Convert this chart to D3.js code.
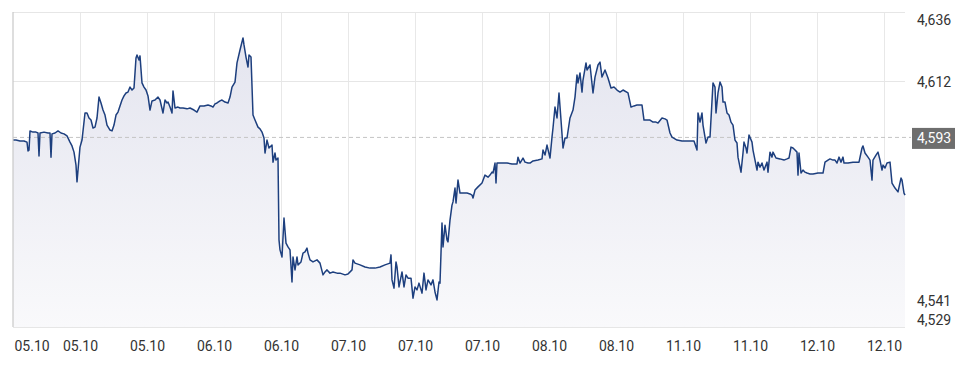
<!DOCTYPE html>
<html><head><meta charset="utf-8">
<script src="https://cdn.jsdelivr.net/npm/d3@7"></script>
<style>html,body{margin:0;padding:0;background:#fff;}svg{display:block;font-family:Roboto,"Noto Sans",sans-serif;}</style>
</head><body>
<svg id="chart" width="961" height="365"></svg>
<script>
// ---- data ----
const times = [0,3,7,11,14,15,16,17,20,23,25,26,27,31,35,37,38,39,42,45,48,51,54,57,59,61,63,64,65,67,69,72,74,76,78,80,82,84,86,88,90,92,94,97,99,101,103,105,107,109,111,113,115,117,119,121,123,124,126,127,129,131,133,135,137,139,142,145,147,150,152,154,155,157,159,160,162,165,167,170,174,177,181,184,187,191,195,198,200,202,204,207,209,212,215,217,219,222,224,227,230,231,233,235,236,238,240,242,245,247,249,251,252,254,256,259,260,262,263,265,266,267,269,271,273,275,277,279,280,282,284,285,288,290,292,294,295,297,300,304,307,310,312,314,317,320,324,327,332,335,339,340,342,347,352,357,362,367,372,377,378,379,381,383,384,386,389,391,393,395,398,400,402,404,406,409,411,413,415,418,420,422,424,426,427,429,430,432,434,435,437,439,440,442,443,445,447,449,452,454,457,459,460,462,465,469,472,475,477,479,480,482,483,484,489,494,499,504,505,507,510,512,515,517,520,525,529,530,532,534,537,539,540,542,544,546,548,550,552,554,557,560,562,564,565,567,569,570,573,574,577,580,582,585,587,589,592,595,598,601,604,607,610,615,618,621,624,629,631,634,637,640,643,645,649,652,654,657,659,664,669,674,678,681,684,685,687,689,690,693,695,697,700,702,703,705,707,709,710,712,714,716,718,720,722,724,725,728,730,731,733,734,736,739,740,742,744,745,747,749,751,754,755,757,759,760,763,767,771,774,776,778,780,782,784,785,786,788,790,792,794,797,800,805,810,812,815,817,820,822,824,826,828,830,831,835,840,843,846,849,850,852,855,857,859,860,863,865,867,869,870,872,874,877,879,882,885,888,889,891,892];
const rates = [4.5925,4.5925,4.5922,4.5922,4.5918,4.5888,4.5891,4.5956,4.5952,4.5952,4.5949,4.5871,4.5949,4.5952,4.5949,4.5949,4.5867,4.5946,4.5949,4.5956,4.5949,4.5946,4.5939,4.5918,4.5905,4.5884,4.5840,4.5783,4.5823,4.5901,4.5925,4.6017,4.6017,4.6000,4.5993,4.5966,4.5969,4.6000,4.6071,4.6051,4.6027,4.6010,4.5976,4.5959,4.5956,4.5976,4.6010,4.6020,4.6041,4.6061,4.6075,4.6085,4.6088,4.6105,4.6095,4.6102,4.6204,4.6214,4.6197,4.6211,4.6119,4.6105,4.6095,4.6075,4.6027,4.6058,4.6061,4.6071,4.6061,4.6017,4.6061,4.6051,4.6054,4.6037,4.6017,4.6092,4.6034,4.6037,4.6034,4.6034,4.6031,4.6034,4.6027,4.6020,4.6041,4.6041,4.6044,4.6041,4.6037,4.6048,4.6051,4.6058,4.6061,4.6054,4.6051,4.6071,4.6105,4.6122,4.6187,4.6231,4.6272,4.6248,4.6207,4.6173,4.6214,4.6207,4.6010,4.5993,4.5969,4.5963,4.5952,4.5932,4.5881,4.5925,4.5898,4.5908,4.5850,4.5881,4.5857,4.5864,4.5586,4.5552,4.5528,4.5660,4.5575,4.5562,4.5552,4.5443,4.5528,4.5484,4.5528,4.5501,4.5511,4.5541,4.5545,4.5558,4.5541,4.5518,4.5511,4.5518,4.5507,4.5467,4.5477,4.5484,4.5473,4.5477,4.5473,4.5473,4.5467,4.5470,4.5484,4.5518,4.5507,4.5501,4.5494,4.5490,4.5490,4.5494,4.5501,4.5507,4.5535,4.5450,4.5422,4.5511,4.5494,4.5426,4.5477,4.5426,4.5467,4.5456,4.5456,4.5388,4.5426,4.5416,4.5439,4.5405,4.5473,4.5416,4.5450,4.5433,4.5450,4.5409,4.5382,4.5443,4.5439,4.5643,4.5562,4.5636,4.5586,4.5579,4.5653,4.5704,4.5715,4.5762,4.5711,4.5789,4.5745,4.5745,4.5745,4.5745,4.5742,4.5738,4.5728,4.5755,4.5766,4.5779,4.5806,4.5799,4.5806,4.5816,4.5813,4.5847,4.5779,4.5847,4.5847,4.5847,4.5844,4.5844,4.5867,4.5847,4.5864,4.5850,4.5847,4.5847,4.5854,4.5857,4.5861,4.5891,4.5874,4.5908,4.5864,4.5935,4.5966,4.6037,4.6000,4.6085,4.5993,4.5898,4.5932,4.5932,4.6000,4.6027,4.6071,4.6146,4.6119,4.6153,4.6088,4.6129,4.6187,4.6163,4.6180,4.6085,4.6139,4.6180,4.6190,4.6139,4.6163,4.6136,4.6102,4.6105,4.6095,4.6088,4.6095,4.6085,4.6037,4.6041,4.6044,4.6044,4.5993,4.5993,4.5993,4.5986,4.5986,4.5983,4.6000,4.5997,4.5993,4.5949,4.5935,4.5925,4.5922,4.5922,4.5922,4.5922,4.5891,4.6017,4.5986,4.6017,4.5976,4.5915,4.5935,4.5935,4.6119,4.6105,4.6017,4.6085,4.6122,4.6105,4.6054,4.6054,4.6017,4.6010,4.5986,4.5976,4.5925,4.5915,4.5867,4.5816,4.5881,4.5918,4.5898,4.5881,4.5942,4.5918,4.5891,4.5857,4.5823,4.5850,4.5833,4.5847,4.5823,4.5850,4.5816,4.5884,4.5867,4.5884,4.5864,4.5861,4.5857,4.5861,4.5864,4.5901,4.5898,4.5891,4.5884,4.5806,4.5881,4.5813,4.5823,4.5816,4.5813,4.5810,4.5810,4.5813,4.5813,4.5850,4.5857,4.5861,4.5857,4.5857,4.5847,4.5867,4.5850,4.5867,4.5847,4.5847,4.5850,4.5850,4.5850,4.5898,4.5905,4.5881,4.5867,4.5857,4.5789,4.5857,4.5874,4.5884,4.5857,4.5823,4.5840,4.5830,4.5847,4.5850,4.5779,4.5762,4.5749,4.5796,4.5789,4.5745,4.5738];
const xTickTimes = [0,67,134,201,268,335,402,469,536,603,670,737,804,871];
const xTickLabels = ["05.10","05.10","05.10","06.10","06.10","07.10","07.10","07.10","08.10","08.10","11.10","11.10","12.10","12.10"];
const yTickValues = [4.6360, 4.6124, 4.5412, 4.5290];
const referenceRate = 4.5934;
const yDomain = [4.529, 4.636];
const timeDomain = [0, 892];

(function () {
  const svg = d3.select("#chart");
  const pL = 13, pR = 905, pT = 12, pB = 327;
  const x = d3.scaleLinear().domain(timeDomain).range([pL, pR]);
  const y = d3.scaleLinear().domain(yDomain).range([pB, pT]);
  const fmt = v => d3.format(".3f")(v).replace(".", ",");
  const data = times.map((t, i) => ({t, v: rates[i]}));

  const defs = svg.append("defs");
  const grad = defs.append("linearGradient").attr("id", "fillGrad")
    .attr("gradientUnits", "userSpaceOnUse").attr("x1", 0).attr("x2", 0).attr("y1", pT).attr("y2", pB);
  grad.append("stop").attr("offset", "0%").attr("stop-color", "#e2e3ee");
  grad.append("stop").attr("offset", "100%").attr("stop-color", "#f9f9fb");

  // gridlines
  const g = svg.append("g");
  g.selectAll("line.v").data(xTickTimes.slice(1)).join("line").attr("class", "v")
    .attr("x1", d => x(d)).attr("x2", d => x(d)).attr("y1", pT).attr("y2", pB)
    .attr("stroke", "#e8e8e8").attr("stroke-width", 1).attr("shape-rendering", "crispEdges");
  g.selectAll("line.h").data(yTickValues).join("line").attr("class", "h")
    .attr("x1", pL).attr("x2", pR).attr("y1", d => y(d)).attr("y2", d => y(d))
    .attr("stroke", "#e6e6e6").attr("stroke-width", 1).attr("shape-rendering", "crispEdges");

  // area
  const area = d3.area().x(d => x(d.t)).y0(pB).y1(d => y(d.v));
  svg.append("path").datum(data).attr("d", area).attr("fill", "url(#fillGrad)");

  // reference dashed line
  svg.append("line").attr("x1", pL).attr("x2", 911).attr("y1", y(referenceRate)).attr("y2", y(referenceRate))
    .attr("stroke", "#c4c4c4").attr("stroke-width", 1).attr("stroke-dasharray", "4,3");

  // line
  const line = d3.line().x(d => x(d.t)).y(d => y(d.v));
  svg.append("path").datum(data).attr("d", line).attr("fill", "none")
    .attr("stroke", "#1d3f7e").attr("stroke-width", 1.5).attr("stroke-linejoin", "round");

  // left axis line
  svg.append("line").attr("x1", pL).attr("x2", pL).attr("y1", pT).attr("y2", pB)
    .attr("stroke", "#c8c8c8").attr("stroke-width", 1.2);

  // x axis labels
  const xAxis = svg.append("g").attr("transform", `translate(0,${pB})`)
    .call(d3.axisBottom(x).tickValues(xTickTimes).tickFormat((d, i) => xTickLabels[i]).tickSize(0).tickPadding(0));
  xAxis.select(".domain").remove();
  xAxis.selectAll("text").attr("y", 24).attr("dy", 0).attr("fill", "#333").style("font-size", "14px")
    .style("font-family", "Roboto, sans-serif");
  xAxis.selectAll(".tick").filter((d, i) => i === 0).select("text").attr("text-anchor", "start").attr("x", 1);

  // y axis labels (right)
  const labelShift = [12, 4.6, 14.7, -3];
  const yAxis = svg.append("g").attr("transform", "translate(917,0)")
    .call(d3.axisRight(y).tickValues(yTickValues).tickFormat(fmt).tickSize(0).tickPadding(0));
  yAxis.select(".domain").remove();
  yAxis.selectAll("text").attr("x", 0).attr("dy", 0).attr("text-anchor", "start")
    .attr("y", (d, i) => labelShift[i]).attr("fill", "#333").style("font-size", "14px")
    .style("font-family", "Roboto, sans-serif");

  // reference badge
  const by = y(referenceRate);
  svg.append("rect").attr("x", 912).attr("y", by - 9.5).attr("width", 43).attr("height", 21).attr("fill", "#6e6e6e");
  svg.append("text").attr("x", 917).attr("y", by + 5.5).attr("fill", "#fff").style("font-size", "14px")
    .style("font-family", "Roboto, sans-serif").text(fmt(referenceRate));
})();
</script>
</body></html>
